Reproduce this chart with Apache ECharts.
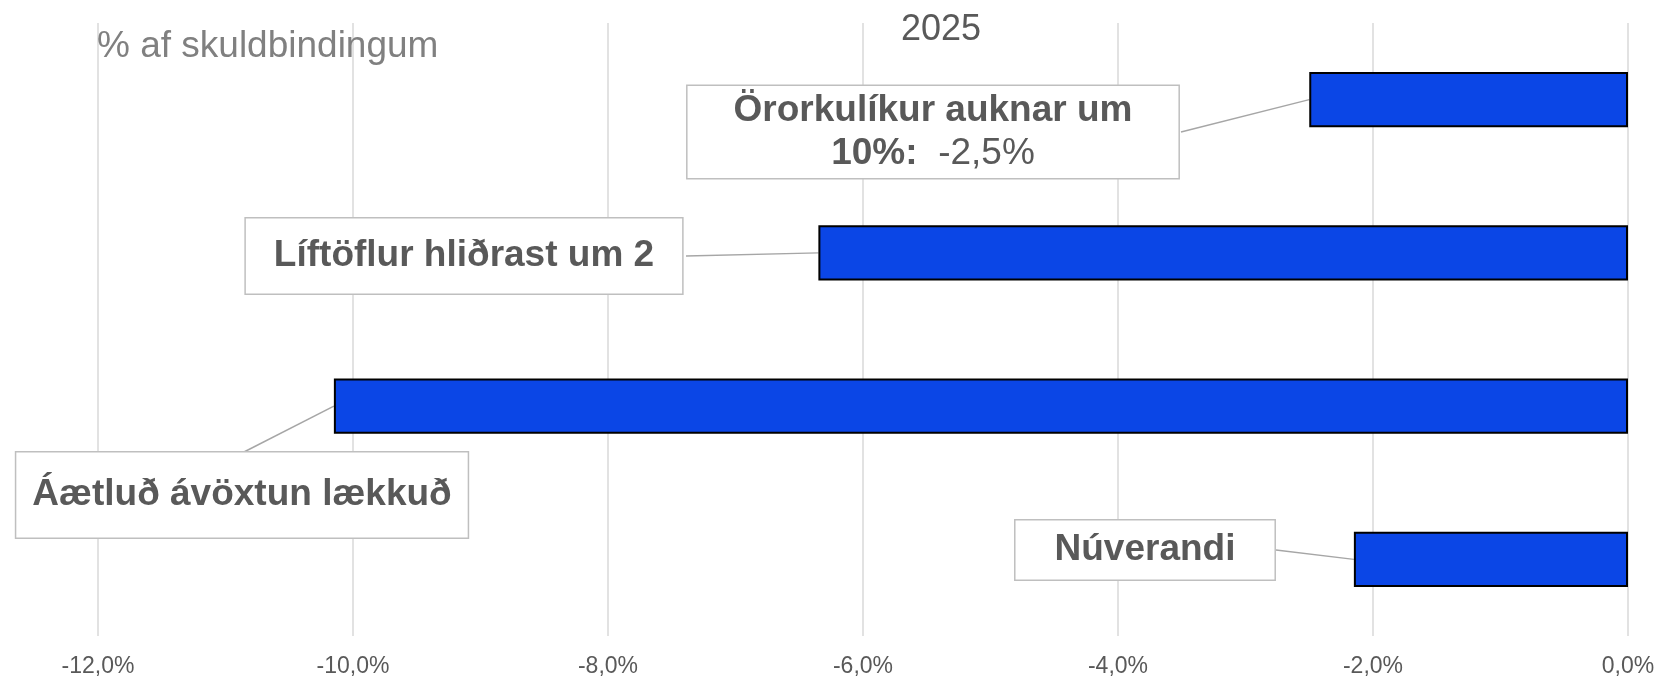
<!DOCTYPE html>
<html>
<head>
<meta charset="utf-8">
<script src="https://cdn.jsdelivr.net/npm/echarts@6/dist/echarts.min.js"></script>
<style>
  html, body { margin: 0; padding: 0; background: #fff; }
  #chart { width: 1658px; height: 678px; }
</style>
</head>
<body>
<div id="chart"></div>
<script>
// gögn
var categories = ['Örorkulíkur auknar um 10%:', 'Líftöflur hliðrast um 2', 'Áætluð ávöxtun lækkuð', 'Núverandi'];
var values = [-2.5, -6.35, -10.15, -2.15];
var xTicks = [-12, -10, -8, -6, -4, -2, 0];

var textColor = '#595959';
var fontFam = '"Liberation Sans", Arial, sans-serif';

// staðsetning merkimiða (miðja kassa), fylling og upphafspunktur tengilínu
var labelPos = [[933, 132], [464, 256], [242, 495], [1145, 550]];
var labelPad = [[3, 46], [16, 28], [21, 16], [8, 39]];
var lineStart = [[1181, 132], [686, 256], [242, 453], [1276, 550]];

function fmt(v) {
    return v.toFixed(1).replace('.', ',') + '%';
}

var chart = echarts.init(document.getElementById('chart'));

var seriesData = values.map(function (v, i) {
    return {
        value: v,
        label: { padding: labelPad[i] }
    };
});

var option = {
    animation: false,
    title: [
        {
            text: '2025',
            left: 901, top: 12, padding: 0,
            textStyle: { fontFamily: fontFam, fontSize: 36, fontWeight: 'normal', color: textColor }
        },
        {
            text: '% af skuldbindingum',
            left: 97, top: 28, padding: 0,
            textStyle: { fontFamily: fontFam, fontSize: 37, fontWeight: 'normal', color: '#808080' }
        }
    ],
    grid: { left: 98, right: 30, top: 23, bottom: 42, containLabel: false },
    xAxis: {
        type: 'value',
        min: xTicks[0],
        max: xTicks[xTicks.length - 1],
        interval: 2,
        axisLine: { show: false },
        axisTick: { show: false },
        splitLine: { show: true, lineStyle: { color: '#d9d9d9', width: 1.5 } },
        axisLabel: {
            margin: 19,
            fontFamily: fontFam, fontSize: 23, color: textColor,
            formatter: function (v) { return fmt(v); }
        }
    },
    yAxis: {
        type: 'category',
        data: categories,
        inverse: true,
        axisLine: { show: false },
        axisTick: { show: false },
        axisLabel: { show: false },
        splitLine: { show: false }
    },
    series: [{
        type: 'bar',
        data: seriesData,
        barCategoryGap: '64%',
        z: 3,
        itemStyle: { color: '#0b46e6', borderColor: '#000', borderWidth: 2 },
        label: {
            show: true,
            backgroundColor: '#fff',
            borderColor: '#bfbfbf',
            borderWidth: 1.5,
            align: 'center',
            verticalAlign: 'middle',
            lineHeight: 40,
            fontFamily: fontFam,
            fontSize: 37,
            fontWeight: 'bold',
            color: textColor,
            formatter: function (p) {
                if (p.dataIndex === 0) {
                    return '{b|Örorkulíkur auknar um}\n{b|10%:}  {n|' + fmt(p.value) + '}';
                }
                return '{b|' + p.name + '}';
            },
            rich: {
                b: { fontFamily: fontFam, fontSize: 37, fontWeight: 'bold', color: textColor, lineHeight: 43 },
                n: { fontFamily: fontFam, fontSize: 37, fontWeight: 'normal', color: textColor, lineHeight: 43 }
            }
        },
        labelLayout: function (params) {
            var p = labelPos[params.dataIndex];
            return { x: p[0], y: p[1], align: 'center', verticalAlign: 'middle' };
        }
    }]
};

chart.setOption(option);

// tengilínur frá kassa að vinstri enda súlu
var lines = values.map(function (v, i) {
    var end = chart.convertToPixel({ gridIndex: 0 }, [v, categories[i]]);
    return {
        type: 'line',
        z: 1,
        shape: { x1: lineStart[i][0], y1: lineStart[i][1], x2: end[0], y2: end[1] },
        style: { stroke: '#a6a6a6', lineWidth: 1.5 }
    };
});
chart.setOption({ graphic: lines });
</script>
</body>
</html>
